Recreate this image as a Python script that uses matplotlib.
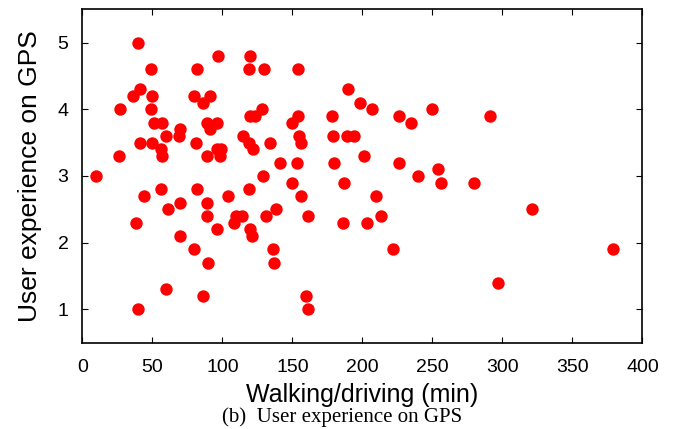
import matplotlib
matplotlib.use("Agg")
import matplotlib.pyplot as plt

# ── Data ──────────────────────────────────────────────────────────────────
travel_min = [10, 26, 27, 36, 38, 40, 40, 41, 41, 44,
              49, 49, 50, 50, 51, 56, 57, 57, 56, 60,
              61, 60, 69, 70, 70, 70, 80, 81, 80, 82,
              82, 86, 86, 89, 89, 89, 89, 90, 91, 91,
              96, 96, 99, 98, 96, 97, 104, 108, 110, 114,
              115, 119, 120, 119, 119, 120, 123, 122, 120, 121,
              128, 129, 130, 131, 134, 136, 137, 138, 141, 150,
              150, 153, 154, 154, 155, 156, 156, 160, 161, 161,
              178, 179, 180, 186, 187, 189, 194, 190, 198, 201,
              203, 207, 210, 213, 222, 226, 226, 235, 240, 250,
              254, 256, 280, 291, 297, 321, 379]
gps_score = [3.0, 3.3, 4.0, 4.2, 2.3, 5.0, 1.0, 4.3, 3.5, 2.7,
             4.6, 4.0, 4.2, 3.5, 3.8, 3.4, 3.8, 3.3, 2.8, 3.6,
             2.5, 1.3, 3.6, 3.7, 2.6, 2.1, 4.2, 3.5, 1.9, 4.6,
             2.8, 4.1, 1.2, 3.8, 3.3, 2.6, 2.4, 1.7, 4.2, 3.7,
             3.8, 3.4, 3.4, 3.3, 2.2, 4.8, 2.7, 2.3, 2.4, 2.4,
             3.6, 4.6, 4.8, 3.5, 2.8, 3.9, 3.9, 3.4, 2.2, 2.1,
             4.0, 3.0, 4.6, 2.4, 3.5, 1.9, 1.7, 2.5, 3.2, 3.8,
             2.9, 3.2, 4.6, 3.9, 3.6, 3.5, 2.7, 1.2, 1.0, 2.4,
             3.9, 3.6, 3.2, 2.3, 2.9, 3.6, 3.6, 4.3, 4.1, 3.3,
             2.3, 4.0, 2.7, 2.4, 1.9, 3.9, 3.2, 3.8, 3.0, 4.0,
             3.1, 2.9, 2.9, 3.9, 1.4, 2.5, 1.9]

x_ticks = [0, 50, 100, 150, 200, 250, 300, 350, 400]
y_ticks = [1, 2, 3, 4, 5]

# ── Figure ────────────────────────────────────────────────────────────────
plt.rcParams['font.family'] = ['Liberation Sans', 'DejaVu Sans']

fig = plt.figure(figsize=(6.78, 4.29), dpi=100)
ax = fig.add_axes([0.1214, 0.2012, 0.8262, 0.7771])

ax.scatter(travel_min, gps_score, s=80, color='#ff0000', linewidths=0, zorder=3)

ax.set_xlim(0, 400)
ax.set_ylim(0.5, 5.5)
ax.set_xticks(x_ticks)
ax.set_yticks(y_ticks)
ax.tick_params(direction='in', length=4.5, width=0.8, top=True, right=True,
               labelsize=14)
ax.tick_params(axis='x', pad=12)
ax.tick_params(axis='y', pad=10)
for sp in ax.spines.values():
    sp.set_linewidth(1.2)

ax.set_xlabel('Walking/driving (min)', fontsize=18, labelpad=5)
ax.set_ylabel('User experience on GPS', fontsize=19, labelpad=11)

fig.text(0.505, 0.028, '(b)  User experience on GPS', ha='center', va='center',
         fontsize=15, family=['Liberation Serif', 'DejaVu Serif'])

fig.savefig('out.png', dpi=100)
